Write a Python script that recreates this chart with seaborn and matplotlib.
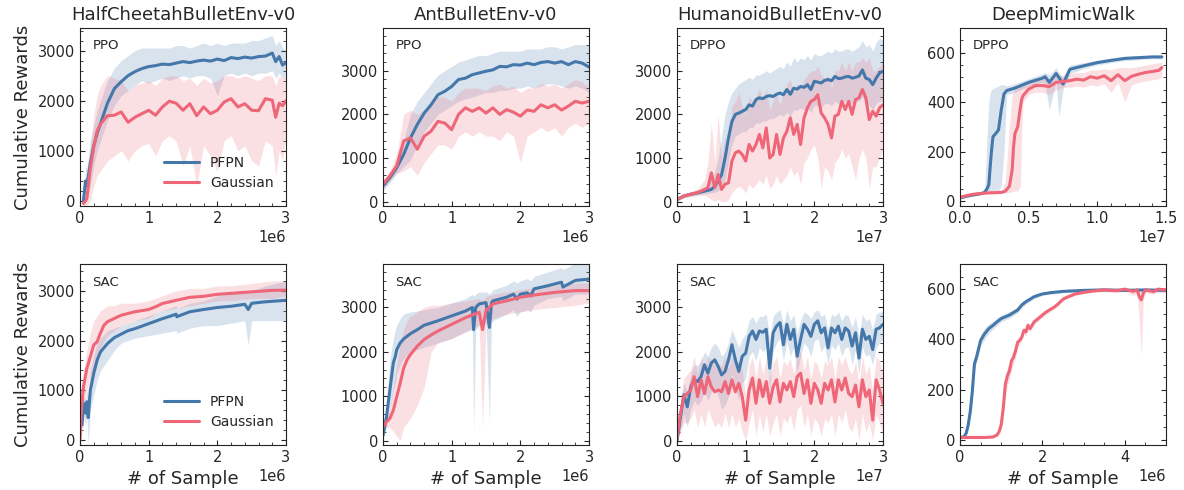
import matplotlib
matplotlib.use("Agg")
import matplotlib.pyplot as plt
from matplotlib.ticker import MultipleLocator, AutoMinorLocator
import seaborn as sns

BLUE = "#4477AA"
RED = "#EE6677"

# ---------------- HalfCheetahBulletEnv-v0 / PPO  (x in 1e6) ----------------
hc_ppo_x = [0.05, 0.08, 0.1, 0.15, 0.2, 0.25, 0.3,
            0.4, 0.5, 0.6, 0.7, 0.8, 0.9, 1.0, 1.1, 1.2, 1.3,
            1.4, 1.5, 1.6, 1.7, 1.8, 1.9, 2.0, 2.1, 2.2, 2.3,
            2.4, 2.5, 2.6, 2.7, 2.8, 2.85, 2.9, 2.95, 3.0]
hc_ppo_pfpn = [0, 400, 300, 750, 1100, 1350, 1550,
               1950, 2240, 2380, 2500, 2580, 2640, 2680, 2700, 2730, 2720,
               2750, 2780, 2760, 2790, 2810, 2790, 2830, 2800, 2860, 2840,
               2870, 2850, 2880, 2890, 2950, 2780, 2880, 2710, 2760]
hc_ppo_pfpn_lo = [-100, 0, 0, 300, 700, 1000, 1200,
                  1600, 1900, 2100, 2200, 2300, 2400, 2350, 2400, 2450, 2400,
                  2450, 2500, 2450, 2500, 2500, 2450, 2100, 2500, 2550, 2500,
                  2550, 2500, 2550, 2550, 2600, 2450, 2550, 2450, 2500]
hc_ppo_pfpn_hi = [100, 700, 650, 1200, 1500, 1800, 2000,
                  2400, 2650, 2800, 2900, 3000, 3050, 3050, 3050, 3050, 3050,
                  3100, 3100, 3050, 3100, 3150, 3100, 3150, 3100, 3150, 3150,
                  3150, 3200, 3200, 3250, 3300, 3100, 3200, 3050, 3000]
hc_ppo_gauss = [-50, 0, 50, 650, 1070, 1400, 1540,
                1700, 1710, 1775, 1570, 1670, 1740, 1810, 1710, 1875, 1990,
                1950, 1810, 1940, 1700, 1875, 1740, 1810, 1975, 2040, 1875,
                1940, 1810, 1800, 2040, 2010, 1670, 1950, 1900, 2000]
hc_ppo_gauss_lo = [-100, -100, -100, 0, 300, 500, 600,
                   800, 900, 1000, 800, 1000, 1100, 1150, 900, 1200, 1300,
                   1200, 700, 1100, 300, 1100, 900, 600, 1200, 1300, 1000,
                   1100, 800, 700, 1200, 1100, 500, 1000, 800, 1300]
hc_ppo_gauss_hi = [100, 100, 300, 1100, 1700, 2100, 2300,
                   2500, 2450, 2400, 2200, 2300, 2350, 2400, 2300, 2450, 2500,
                   2500, 2400, 2450, 2300, 2450, 2350, 2400, 2500, 2500, 2450,
                   2500, 2450, 2400, 2500, 2500, 2300, 2500, 2450, 2500]

# ---------------- AntBulletEnv-v0 / PPO  (x in 1e6) ----------------
ant_ppo_x = [0.0, 0.1, 0.2, 0.3, 0.4, 0.5, 0.6, 0.7, 0.8, 0.9,
             1.0, 1.1, 1.2, 1.3, 1.4, 1.5, 1.6, 1.7, 1.8, 1.9,
             2.0, 2.1, 2.2, 2.3, 2.4, 2.5, 2.6, 2.7, 2.8, 2.9, 3.0]
ant_ppo_pfpn = [360, 550, 780, 1080, 1460, 1770, 2030, 2220, 2450, 2530,
                2640, 2800, 2830, 2910, 2950, 2990, 3020, 3100, 3090, 3140,
                3130, 3175, 3140, 3190, 3210, 3175, 3210, 3140, 3210, 3175, 3085]
ant_ppo_pfpn_lo = [250, 430, 650, 800, 950, 1300, 1600, 1800, 2000, 2100,
                   2200, 2300, 2350, 2400, 2450, 2500, 2500, 2550, 2550, 2600,
                   2600, 2650, 2600, 2650, 2700, 2700, 2650, 2600, 2650, 2600, 2500]
ant_ppo_pfpn_hi = [450, 650, 950, 1400, 2000, 2300, 2500, 2700, 2900, 3000,
                   3100, 3200, 3250, 3300, 3350, 3350, 3400, 3450, 3450, 3450,
                   3450, 3500, 3500, 3500, 3550, 3550, 3500, 3550, 3600, 3600, 3600]
ant_ppo_gauss = [400, 590, 820, 1390, 1460, 1200, 1500, 1615, 1840, 1800,
                 1650, 2000, 2150, 2070, 2150, 2030, 2150, 2000, 2110, 2050,
                 1960, 2100, 2070, 2220, 2150, 2220, 2100, 2190, 2300, 2260, 2300]
ant_ppo_gauss_lo = [300, 480, 650, 700, 800, 600, 900, 1100, 1300, 1300,
                    1200, 1500, 1600, 1500, 1600, 1500, 1500, 1400, 1600, 1500,
                    900, 1500, 1600, 1700, 1600, 1700, 1500, 1700, 1800, 1700, 1800]
ant_ppo_gauss_hi = [500, 700, 1100, 2000, 2100, 2000, 2100, 2300, 2400, 2400,
                    2300, 2500, 2600, 2600, 2600, 2550, 2650, 2700, 2600, 2650,
                    2500, 2600, 2600, 2700, 2650, 2700, 2600, 2700, 2800, 2750, 2600]

# ---------------- HumanoidBulletEnv-v0  (x in 1e7, shared by DPPO and SAC) ----------------
hum_x = [0.0, 0.05, 0.1, 0.15, 0.2, 0.25, 0.3, 0.35, 0.4, 0.45,
         0.5, 0.55, 0.6, 0.65, 0.7, 0.75, 0.8, 0.85, 0.9, 0.95,
         1.0, 1.05, 1.1, 1.15, 1.2, 1.25, 1.3, 1.35, 1.4, 1.45,
         1.5, 1.55, 1.6, 1.65, 1.7, 1.75, 1.8, 1.85, 1.9, 1.95,
         2.0, 2.05, 2.1, 2.15, 2.2, 2.25, 2.3, 2.35, 2.4, 2.45,
         2.5, 2.55, 2.6, 2.65, 2.7, 2.75, 2.8, 2.85, 2.9, 2.95, 3.0]

hum_dppo_pfpn = [50, 90, 130, 150, 170, 185, 200, 220, 240, 260,
                 280, 350, 470, 620, 1000, 1460, 1840, 2000, 2030, 2070,
                 2110, 2220, 2190, 2340, 2380, 2360, 2410, 2430, 2410, 2460,
                 2490, 2450, 2570, 2460, 2600, 2580, 2640, 2620, 2680, 2570,
                 2760, 2740, 2720, 2780, 2800, 2770, 2870, 2820, 2830, 2860,
                 2870, 2830, 2850, 2880, 3020, 2830, 2800, 2680, 2830, 2950, 2990]
hum_dppo_pfpn_lo = [0, 50, 90, 110, 130, 145, 160, 170, 180, 190,
                    200, 220, 250, 300, 500, 900, 1300, 1500, 1550, 1600,
                    1600, 1700, 1700, 1800, 1800, 1850, 1850, 1900, 1900, 1950,
                    2000, 1950, 2050, 1950, 2100, 2100, 2150, 2100, 2150, 2050,
                    2200, 2200, 2150, 2250, 2250, 2200, 2300, 2250, 2300, 2300,
                    2300, 2250, 2300, 2300, 2400, 2250, 2200, 2100, 2250, 2300, 2300]
hum_dppo_pfpn_hi = [100, 130, 170, 190, 210, 230, 250, 280, 320, 400,
                    500, 700, 1000, 1500, 2000, 2300, 2500, 2600, 2700, 2750,
                    2800, 2850, 2800, 2900, 2900, 2950, 3000, 2950, 3000, 3050,
                    3100, 3050, 3200, 3100, 3300, 3200, 3300, 3250, 3350, 3250,
                    3400, 3350, 3350, 3400, 3450, 3400, 3500, 3450, 3450, 3500,
                    3500, 3450, 3500, 3550, 3700, 3550, 3600, 3450, 3650, 3750, 3700]
hum_dppo_gauss = [50, 90, 130, 150, 170, 190, 210, 240, 280, 320,
                  660, 320, 620, 280, 400, 430, 930, 1120, 1160, 1080,
                  930, 1310, 1160, 1310, 1540, 1230, 1690, 1000, 1080, 1540,
                  1080, 1460, 1610, 1920, 1540, 1770, 1310, 1920, 2150, 2300,
                  2340, 2450, 2030, 1920, 1770, 1460, 1960, 2000, 2300, 2110,
                  2300, 2000, 2340, 2380, 2570, 2380, 1880, 2070, 1960, 2150, 2220]
hum_dppo_gauss_lo = [0, 40, 80, 100, 110, 120, 130, 140, 150, 100,
                     50, 0, 50, 0, 0, 50, 200, 300, 350, 300,
                     200, 400, 300, 400, 500, 400, 600, 300, 400, 600,
                     400, 500, 600, 800, 600, 700, 400, 900, 1000, 1200,
                     1300, 1000, 300, 800, 700, 500, 900, 1000, 1200, 1000,
                     1100, 800, 500, 1000, 1200, 1000, 300, 800, 800, 1000, 1200]
hum_dppo_gauss_hi = [100, 140, 180, 200, 230, 260, 300, 400, 500, 900,
                     1800, 900, 2000, 1000, 1500, 1200, 2200, 2300, 2500, 2200,
                     2000, 2400, 2300, 2400, 2600, 2300, 2600, 2100, 2300, 2500,
                     2200, 2500, 2700, 2800, 2500, 2700, 2600, 2800, 2900, 3000,
                     3000, 3100, 2900, 2800, 2900, 2600, 3000, 3000, 3200, 3000,
                     3200, 3000, 3200, 3200, 3300, 3200, 3300, 3000, 3000, 3100, 3200]

hum_sac_pfpn = [0, 530, 1030, 760, 1210, 1370, 1330, 1440, 1710, 1520,
                1750, 1820, 1670, 1480, 1560, 1820, 2160, 1820, 1560, 1900,
                1970, 2350, 2470, 2280, 2470, 2440, 2510, 1630, 2430, 2580,
                2660, 2160, 2620, 2280, 2510, 1900, 2280, 2620, 2510, 2350,
                2620, 2700, 2430, 2540, 2090, 2540, 2430, 2580, 2280, 2540,
                2470, 2130, 2430, 1860, 2510, 2280, 2350, 2050, 2510, 2540, 2620]
hum_sac_pfpn_lo = [0, 200, 600, 300, 700, 900, 800, 900, 1100, 900,
                   1100, 1200, 1000, 700, 800, 1000, 1500, 1200, 900, 1300,
                   1400, 1900, 2000, 1800, 2100, 2000, 2100, 1100, 2000, 2200,
                   2300, 1800, 2250, 1900, 2100, 1500, 1900, 2200, 2100, 1900,
                   2250, 2300, 2000, 2150, 1700, 2150, 2050, 2200, 1900, 2100,
                   2100, 1700, 2050, 1500, 2100, 1900, 1950, 1700, 2100, 2200, 2300]
hum_sac_pfpn_hi = [100, 800, 1300, 1100, 1500, 1700, 1700, 1800, 2000, 1900,
                   2100, 2200, 2100, 1900, 2000, 2200, 2500, 2300, 2100, 2300,
                   2400, 2700, 2800, 2650, 2800, 2800, 2850, 2300, 2800, 2900,
                   2950, 2600, 2950, 2700, 2850, 2400, 2700, 2900, 2850, 2750,
                   2900, 2950, 2800, 2850, 2500, 2850, 2800, 2900, 2700, 2850,
                   2800, 2550, 2800, 2350, 2850, 2700, 2750, 2500, 2850, 2900, 2900]
hum_sac_gauss = [50, 610, 990, 1060, 1140, 1440, 990, 1370, 1060, 1440,
                 1210, 1100, 1140, 1100, 1330, 1060, 1370, 1100, 1290, 990,
                 460, 1140, 1410, 840, 1370, 990, 1330, 840, 1210, 1370,
                 870, 1290, 1140, 1330, 990, 1440, 1520, 1060, 1370, 840,
                 1290, 1140, 840, 1290, 1140, 1370, 870, 1370, 1140, 1410,
                 1060, 990, 1250, 760, 1370, 990, 1140, 460, 1370, 1140, 840]
hum_sac_gauss_lo = [0, 200, 400, 400, 500, 700, 300, 600, 300, 700,
                    500, 300, 400, 300, 600, 300, 600, 300, 500, 200,
                    0, 400, 700, 100, 600, 200, 600, 100, 400, 600,
                    100, 500, 400, 600, 200, 700, 800, 300, 600, 100,
                    500, 400, 100, 500, 400, 600, 100, 600, 400, 700,
                    300, 200, 500, 0, 600, 200, 400, 0, 600, 400, 100]
hum_sac_gauss_hi = [100, 900, 1400, 1500, 1600, 1900, 1500, 1900, 1600, 1900,
                    1800, 1700, 1700, 1700, 1900, 1600, 1900, 1700, 1800, 1600,
                    1000, 1700, 1900, 1400, 1900, 1500, 1850, 1400, 1750, 1900,
                    1400, 1800, 1700, 1850, 1500, 1950, 2000, 1600, 1900, 1400,
                    1800, 1700, 1400, 1800, 1700, 1900, 1400, 1900, 1700, 1900,
                    1600, 1500, 1800, 1300, 1900, 1500, 1700, 1100, 1900, 1800, 1500]

# ---------------- DeepMimicWalk / DPPO  (x in 1e7) ----------------
dm_ppo_pfpn_x = [0.0, 0.05, 0.1, 0.15, 0.18, 0.2, 0.21, 0.22, 0.23, 0.24,
                 0.26, 0.28, 0.3, 0.32, 0.34, 0.4, 0.5, 0.6, 0.62, 0.65,
                 0.7, 0.72, 0.75, 0.8, 0.9, 1.0, 1.1, 1.2, 1.3, 1.4, 1.47]
dm_ppo_pfpn = [13, 20, 25, 30, 35, 53, 67, 140, 207, 260,
               273, 287, 367, 433, 447, 457, 480, 497, 503, 480,
               516, 500, 473, 533, 547, 560, 569, 577, 580, 583, 583]
dm_ppo_pfpn_lo = [8, 15, 20, 25, 30, 35, 36, 38, 40, 40,
                  40, 42, 60, 200, 430, 440, 465, 480, 470, 370,
                  480, 340, 450, 515, 535, 550, 560, 568, 572, 575, 575]
dm_ppo_pfpn_hi = [18, 25, 30, 35, 50, 300, 400, 440, 450, 455,
                  460, 465, 470, 470, 465, 475, 495, 515, 520, 510,
                  540, 520, 500, 550, 560, 570, 578, 585, 588, 590, 590]
dm_ppo_gauss_x = [0.0, 0.05, 0.1, 0.2, 0.3, 0.33, 0.36, 0.38, 0.39, 0.4,
                  0.42, 0.44, 0.45, 0.46, 0.5, 0.55, 0.6, 0.65, 0.7, 0.75,
                  0.8, 0.85, 0.9, 0.95, 1.0, 1.05, 1.1, 1.15, 1.2, 1.25,
                  1.3, 1.35, 1.4, 1.45, 1.47]
dm_ppo_gauss = [15, 22, 28, 33, 35, 40, 60, 127, 220, 273,
                300, 380, 413, 427, 453, 467, 467, 463, 480, 484,
                487, 493, 489, 503, 497, 507, 487, 511, 487, 505,
                513, 520, 524, 529, 540]
dm_ppo_gauss_lo = [10, 17, 23, 28, 30, 32, 35, 38, 40, 40,
                   42, 60, 300, 400, 430, 440, 440, 430, 450, 460,
                   460, 465, 460, 470, 465, 475, 440, 480, 400, 470,
                   480, 485, 490, 495, 500]
dm_ppo_gauss_hi = [20, 27, 33, 38, 40, 80, 300, 430, 445, 450,
                   460, 465, 470, 470, 485, 495, 495, 495, 505, 510,
                   515, 520, 520, 530, 530, 535, 530, 540, 540, 540,
                   545, 550, 555, 560, 565]

# ---------------- HalfCheetahBulletEnv-v0 / SAC  (x in 1e6) ----------------
hc_sac_pfpn_x = [0.03, 0.05, 0.08, 0.1, 0.12, 0.15, 0.2, 0.25, 0.3, 0.4,
                 0.5, 0.6, 0.7, 0.8, 1.0, 1.2, 1.4, 1.41, 1.6, 1.8,
                 2.0, 2.2, 2.4, 2.45, 2.5, 2.7, 3.0]
hc_sac_pfpn = [300, 740, 540, 770, 450, 1000, 1340, 1610, 1775, 1940,
               2060, 2130, 2200, 2240, 2340, 2440, 2530, 2480, 2580, 2625,
               2665, 2690, 2730, 2625, 2750, 2780, 2810]
hc_sac_pfpn_lo = [0, 500, 300, 500, -100, 600, 900, 1200, 1400, 1600,
                  1800, 1950, 2000, 2050, 2100, 2150, 2200, 2150, 2250, 2300,
                  2300, 2350, 2400, 1900, 2400, 2400, 2400]
hc_sac_pfpn_hi = [500, 900, 800, 1000, 900, 1400, 1700, 1950, 2050, 2200,
                  2250, 2300, 2350, 2400, 2500, 2600, 2700, 2650, 2750, 2800,
                  2900, 2950, 3000, 2950, 3000, 3100, 3200]
hc_sac_gauss_x = [0.0, 0.02, 0.05, 0.1, 0.15, 0.2, 0.25, 0.3, 0.35, 0.4,
                  0.5, 0.6, 0.8, 1.0, 1.1, 1.2, 1.4, 1.6, 1.8, 2.0,
                  2.2, 2.5, 2.8, 3.0]
hc_sac_gauss = [0, 600, 1070, 1440, 1675, 1910, 1980, 2160, 2310, 2380,
                2445, 2510, 2580, 2625, 2680, 2745, 2810, 2870, 2890, 2930,
                2950, 2980, 3010, 3015]
hc_sac_gauss_lo = [-100, 300, 700, 1000, 1250, 1500, 1650, 1850, 2000, 2100,
                   2200, 2300, 2400, 2450, 2550, 2600, 2650, 2700, 2750, 2800,
                   2800, 2850, 2850, 2900]
hc_sac_gauss_hi = [100, 900, 1400, 1800, 2150, 2400, 2500, 2600, 2650, 2700,
                   2700, 2750, 2750, 2800, 2850, 2900, 3000, 3050, 3050, 3100,
                   3100, 3150, 3200, 3200]

# ---------------- AntBulletEnv-v0 / SAC  (x in 1e6) ----------------
ant_sac_pfpn_x = [0.0, 0.05, 0.1, 0.15, 0.18, 0.2, 0.25, 0.3, 0.4, 0.5,
                  0.6, 0.8, 1.0, 1.2, 1.3, 1.32, 1.35, 1.4, 1.5, 1.55,
                  1.58, 1.6, 1.8, 1.9, 1.95, 2.0, 2.1, 2.15, 2.2, 2.4,
                  2.6, 2.62, 2.8, 3.0]
ant_sac_pfpn = [110, 530, 1140, 1750, 1900, 2050, 2200, 2290, 2410, 2500,
                2600, 2700, 2810, 2920, 3000, 2500, 3000, 3080, 3110, 2550,
                3100, 3150, 3230, 3300, 3190, 3300, 3330, 3260, 3420, 3490,
                3570, 3460, 3610, 3640]
ant_sac_pfpn_lo = [50, 300, 700, 1100, 1300, 1500, 1700, 1850, 2000, 2050,
                   2100, 2200, 2300, 2450, 2500, 200, 2500, 2600, 2650, 400,
                   2650, 2700, 2850, 2950, 2800, 2900, 2950, 2900, 3050, 3200,
                   3250, 3150, 3300, 3300]
ant_sac_pfpn_hi = [200, 800, 1800, 2300, 2500, 2600, 2750, 2850, 2900, 2920,
                   2950, 3000, 3100, 3200, 3300, 3250, 3300, 3350, 3350, 3300,
                   3350, 3400, 3500, 3600, 3550, 3600, 3650, 3600, 3700, 3800,
                   3900, 3850, 4000, 4000]
ant_sac_gauss_x = [0.0, 0.05, 0.1, 0.15, 0.2, 0.25, 0.3, 0.35, 0.4, 0.5,
                   0.6, 0.7, 0.8, 1.0, 1.2, 1.4, 1.45, 1.5, 1.6, 1.8,
                   2.0, 2.2, 2.5, 2.8, 3.0]
ant_sac_gauss = [300, 420, 500, 680, 990, 1290, 1630, 1820, 1940, 2130,
                 2280, 2380, 2470, 2620, 2770, 2890, 2500, 2930, 3080, 3150,
                 3230, 3280, 3340, 3380, 3380]
ant_sac_gauss_lo = [200, 300, 300, 200, 100, 0, 300, 400, 500, 800,
                    1200, 2000, 2200, 2300, 2450, 2600, 300, 2600, 2750, 2850,
                    2900, 2950, 3000, 3050, 3100]
ant_sac_gauss_hi = [400, 550, 700, 1200, 1700, 2200, 2500, 2700, 2800, 2900,
                    3000, 3050, 3050, 3100, 3150, 3200, 3150, 3250, 3300, 3350,
                    3400, 3450, 3500, 3550, 3550]

# ---------------- DeepMimicWalk / SAC  (x in 1e6) ----------------
dm_sac_pfpn_x = [0.0, 0.1, 0.15, 0.2, 0.25, 0.3, 0.35, 0.4, 0.45, 0.5,
                 0.6, 0.7, 0.8, 0.9, 1.0, 1.2, 1.4, 1.5, 1.6, 1.8,
                 2.0, 2.2, 2.5, 3.0, 3.5, 4.0, 4.5, 5.0]
dm_sac_pfpn = [10, 13, 27, 60, 114, 195, 302, 329, 362, 396,
               423, 443, 456, 470, 483, 497, 517, 537, 550, 570,
               581, 586, 591, 595, 597, 595, 597, 595]
dm_sac_pfpn_lo = [5, 8, 18, 45, 90, 170, 280, 310, 340, 375,
                  400, 425, 440, 455, 470, 485, 505, 525, 540, 562,
                  575, 580, 586, 590, 592, 590, 592, 590]
dm_sac_pfpn_hi = [15, 18, 36, 75, 140, 220, 325, 350, 385, 420,
                  445, 462, 472, 485, 497, 510, 530, 550, 560, 578,
                  587, 592, 596, 600, 602, 600, 602, 600]
dm_sac_gauss_x = [0.0, 0.2, 0.4, 0.6, 0.8, 0.9, 0.95, 1.0, 1.05, 1.1,
                  1.15, 1.2, 1.25, 1.3, 1.35, 1.4, 1.45, 1.5, 1.55, 1.6,
                  1.65, 1.7, 1.8, 1.9, 2.0, 2.1, 2.2, 2.3, 2.4, 2.5,
                  2.6, 2.8, 3.0, 3.2, 3.5, 3.8, 4.0, 4.2, 4.3, 4.35,
                  4.4, 4.45, 4.5, 4.7, 4.8, 5.0]
dm_sac_gauss = [10, 10, 10, 10, 12, 20, 34, 60, 128, 221,
                255, 275, 315, 329, 356, 389, 396, 409, 436, 430,
                456, 443, 470, 483, 497, 510, 520, 530, 544, 560,
                568, 581, 587, 592, 597, 594, 600, 591, 597, 570,
                557, 584, 597, 590, 600, 597]
dm_sac_gauss_lo = [5, 5, 5, 5, 7, 14, 25, 40, 90, 170,
                   215, 240, 280, 300, 330, 370, 380, 395, 420, 415,
                   440, 430, 458, 472, 487, 500, 511, 522, 537, 553,
                   562, 575, 582, 586, 590, 585, 592, 575, 585, 480,
                   330, 560, 585, 580, 588, 585]
dm_sac_gauss_hi = [15, 15, 15, 15, 17, 26, 45, 85, 170, 260,
                   290, 305, 345, 355, 380, 405, 410, 422, 450, 445,
                   470, 456, 482, 494, 507, 520, 529, 538, 551, 567,
                   574, 587, 592, 598, 603, 602, 607, 603, 605, 600,
                   595, 602, 605, 600, 608, 605]

titles = ["HalfCheetahBulletEnv-v0", "AntBulletEnv-v0", "HumanoidBulletEnv-v0", "DeepMimicWalk"]

panels = [
    # row 1
    dict(algo="PPO", scale=1e6, xmax=3, xstep=1, ylim=(-100, 3450), ystep=1000, legend=True,
         pfpn=(hc_ppo_x, hc_ppo_pfpn, hc_ppo_pfpn_lo, hc_ppo_pfpn_hi),
         gauss=(hc_ppo_x, hc_ppo_gauss, hc_ppo_gauss_lo, hc_ppo_gauss_hi)),
    dict(algo="PPO", scale=1e6, xmax=3, xstep=1, ylim=(-100, 3980), ystep=1000, legend=False,
         pfpn=(ant_ppo_x, ant_ppo_pfpn, ant_ppo_pfpn_lo, ant_ppo_pfpn_hi),
         gauss=(ant_ppo_x, ant_ppo_gauss, ant_ppo_gauss_lo, ant_ppo_gauss_hi)),
    dict(algo="DPPO", scale=1e7, xmax=3, xstep=1, ylim=(-100, 3980), ystep=1000, legend=False,
         pfpn=(hum_x, hum_dppo_pfpn, hum_dppo_pfpn_lo, hum_dppo_pfpn_hi),
         gauss=(hum_x, hum_dppo_gauss, hum_dppo_gauss_lo, hum_dppo_gauss_hi)),
    dict(algo="DPPO", scale=1e7, xmax=1.5, xstep=0.5, ylim=(-20, 700), ystep=200, legend=False,
         pfpn=(dm_ppo_pfpn_x, dm_ppo_pfpn, dm_ppo_pfpn_lo, dm_ppo_pfpn_hi),
         gauss=(dm_ppo_gauss_x, dm_ppo_gauss, dm_ppo_gauss_lo, dm_ppo_gauss_hi)),
    # row 2
    dict(algo="SAC", scale=1e6, xmax=3, xstep=1, ylim=(-100, 3540), ystep=1000, legend=True,
         pfpn=(hc_sac_pfpn_x, hc_sac_pfpn, hc_sac_pfpn_lo, hc_sac_pfpn_hi),
         gauss=(hc_sac_gauss_x, hc_sac_gauss, hc_sac_gauss_lo, hc_sac_gauss_hi)),
    dict(algo="SAC", scale=1e6, xmax=3, xstep=1, ylim=(-100, 3980), ystep=1000, legend=False,
         pfpn=(ant_sac_pfpn_x, ant_sac_pfpn, ant_sac_pfpn_lo, ant_sac_pfpn_hi),
         gauss=(ant_sac_gauss_x, ant_sac_gauss, ant_sac_gauss_lo, ant_sac_gauss_hi)),
    dict(algo="SAC", scale=1e7, xmax=3, xstep=1, ylim=(-100, 3980), ystep=1000, legend=False,
         pfpn=(hum_x, hum_sac_pfpn, hum_sac_pfpn_lo, hum_sac_pfpn_hi),
         gauss=(hum_x, hum_sac_gauss, hum_sac_gauss_lo, hum_sac_gauss_hi)),
    dict(algo="SAC", scale=1e6, xmax=5, xstep=2, ylim=(-20, 700), ystep=200, legend=False,
         pfpn=(dm_sac_pfpn_x, dm_sac_pfpn, dm_sac_pfpn_lo, dm_sac_pfpn_hi),
         gauss=(dm_sac_gauss_x, dm_sac_gauss, dm_sac_gauss_lo, dm_sac_gauss_hi)),
]

sns.set_theme(style="ticks")
plt.rcParams["font.family"] = ["DejaVu Sans"]

W, H = 1184, 490
fig, axes = plt.subplots(2, 4, figsize=(W / 100, H / 100), dpi=100)

col_left = [80, 383, 677, 960]
row_top = [28, 264]
row_h = [178, 181]
ax_w = 206

for i, (ax, p) in enumerate(zip(axes.flat, panels)):
    r, c = divmod(i, 4)
    ax.set_position([col_left[c] / W, 1 - (row_top[r] + row_h[r]) / H, ax_w / W, row_h[r] / H])

    for key, color, name in [("pfpn", BLUE, "PFPN"), ("gauss", RED, "Gaussian")]:
        xs, mean, lo, hi = p[key]
        xs = [v * p["scale"] for v in xs]
        ax.fill_between(xs, lo, hi, color=color, alpha=0.2, linewidth=0)
        sns.lineplot(x=xs, y=mean, ax=ax, color=color, linewidth=2.2,
                     label=name if p["legend"] else None, estimator=None, sort=False)

    ax.set_xlim(0, p["xmax"] * p["scale"])
    ax.set_ylim(*p["ylim"])
    ax.xaxis.set_major_locator(MultipleLocator(p["xstep"] * p["scale"]))
    ax.yaxis.set_major_locator(MultipleLocator(p["ystep"]))
    ax.xaxis.set_minor_locator(AutoMinorLocator())
    ax.yaxis.set_minor_locator(AutoMinorLocator())
    ax.tick_params(which="both", direction="in", right=True, top=False, labelsize=10.5)
    ax.tick_params(which="major", length=3.5, width=0.8)
    ax.tick_params(which="minor", length=2, width=0.6)
    ax.xaxis.get_offset_text().set_fontsize(10.5)
    for s in ax.spines.values():
        s.set_linewidth(0.8)
        s.set_color("#222222")

    ax.text(0.06, 0.9, p["algo"], transform=ax.transAxes, fontsize=9.5, va="center", ha="left")

    if r == 0:
        ax.set_title(titles[c], fontsize=13, pad=6)
    if c == 0:
        ax.set_ylabel("Cumulative Rewards", fontsize=13)
    else:
        ax.set_ylabel("")
    if r == 1:
        ax.set_xlabel("# of Sample", fontsize=13)
    else:
        ax.set_xlabel("")

    if p["legend"]:
        ax.legend(loc="lower right", frameon=False, fontsize=10, handlelength=2.5,
                  labelspacing=0.45, bbox_to_anchor=(1.0, 0.02))
    elif ax.get_legend() is not None:
        ax.get_legend().remove()

fig.savefig("out.png", dpi=100)
